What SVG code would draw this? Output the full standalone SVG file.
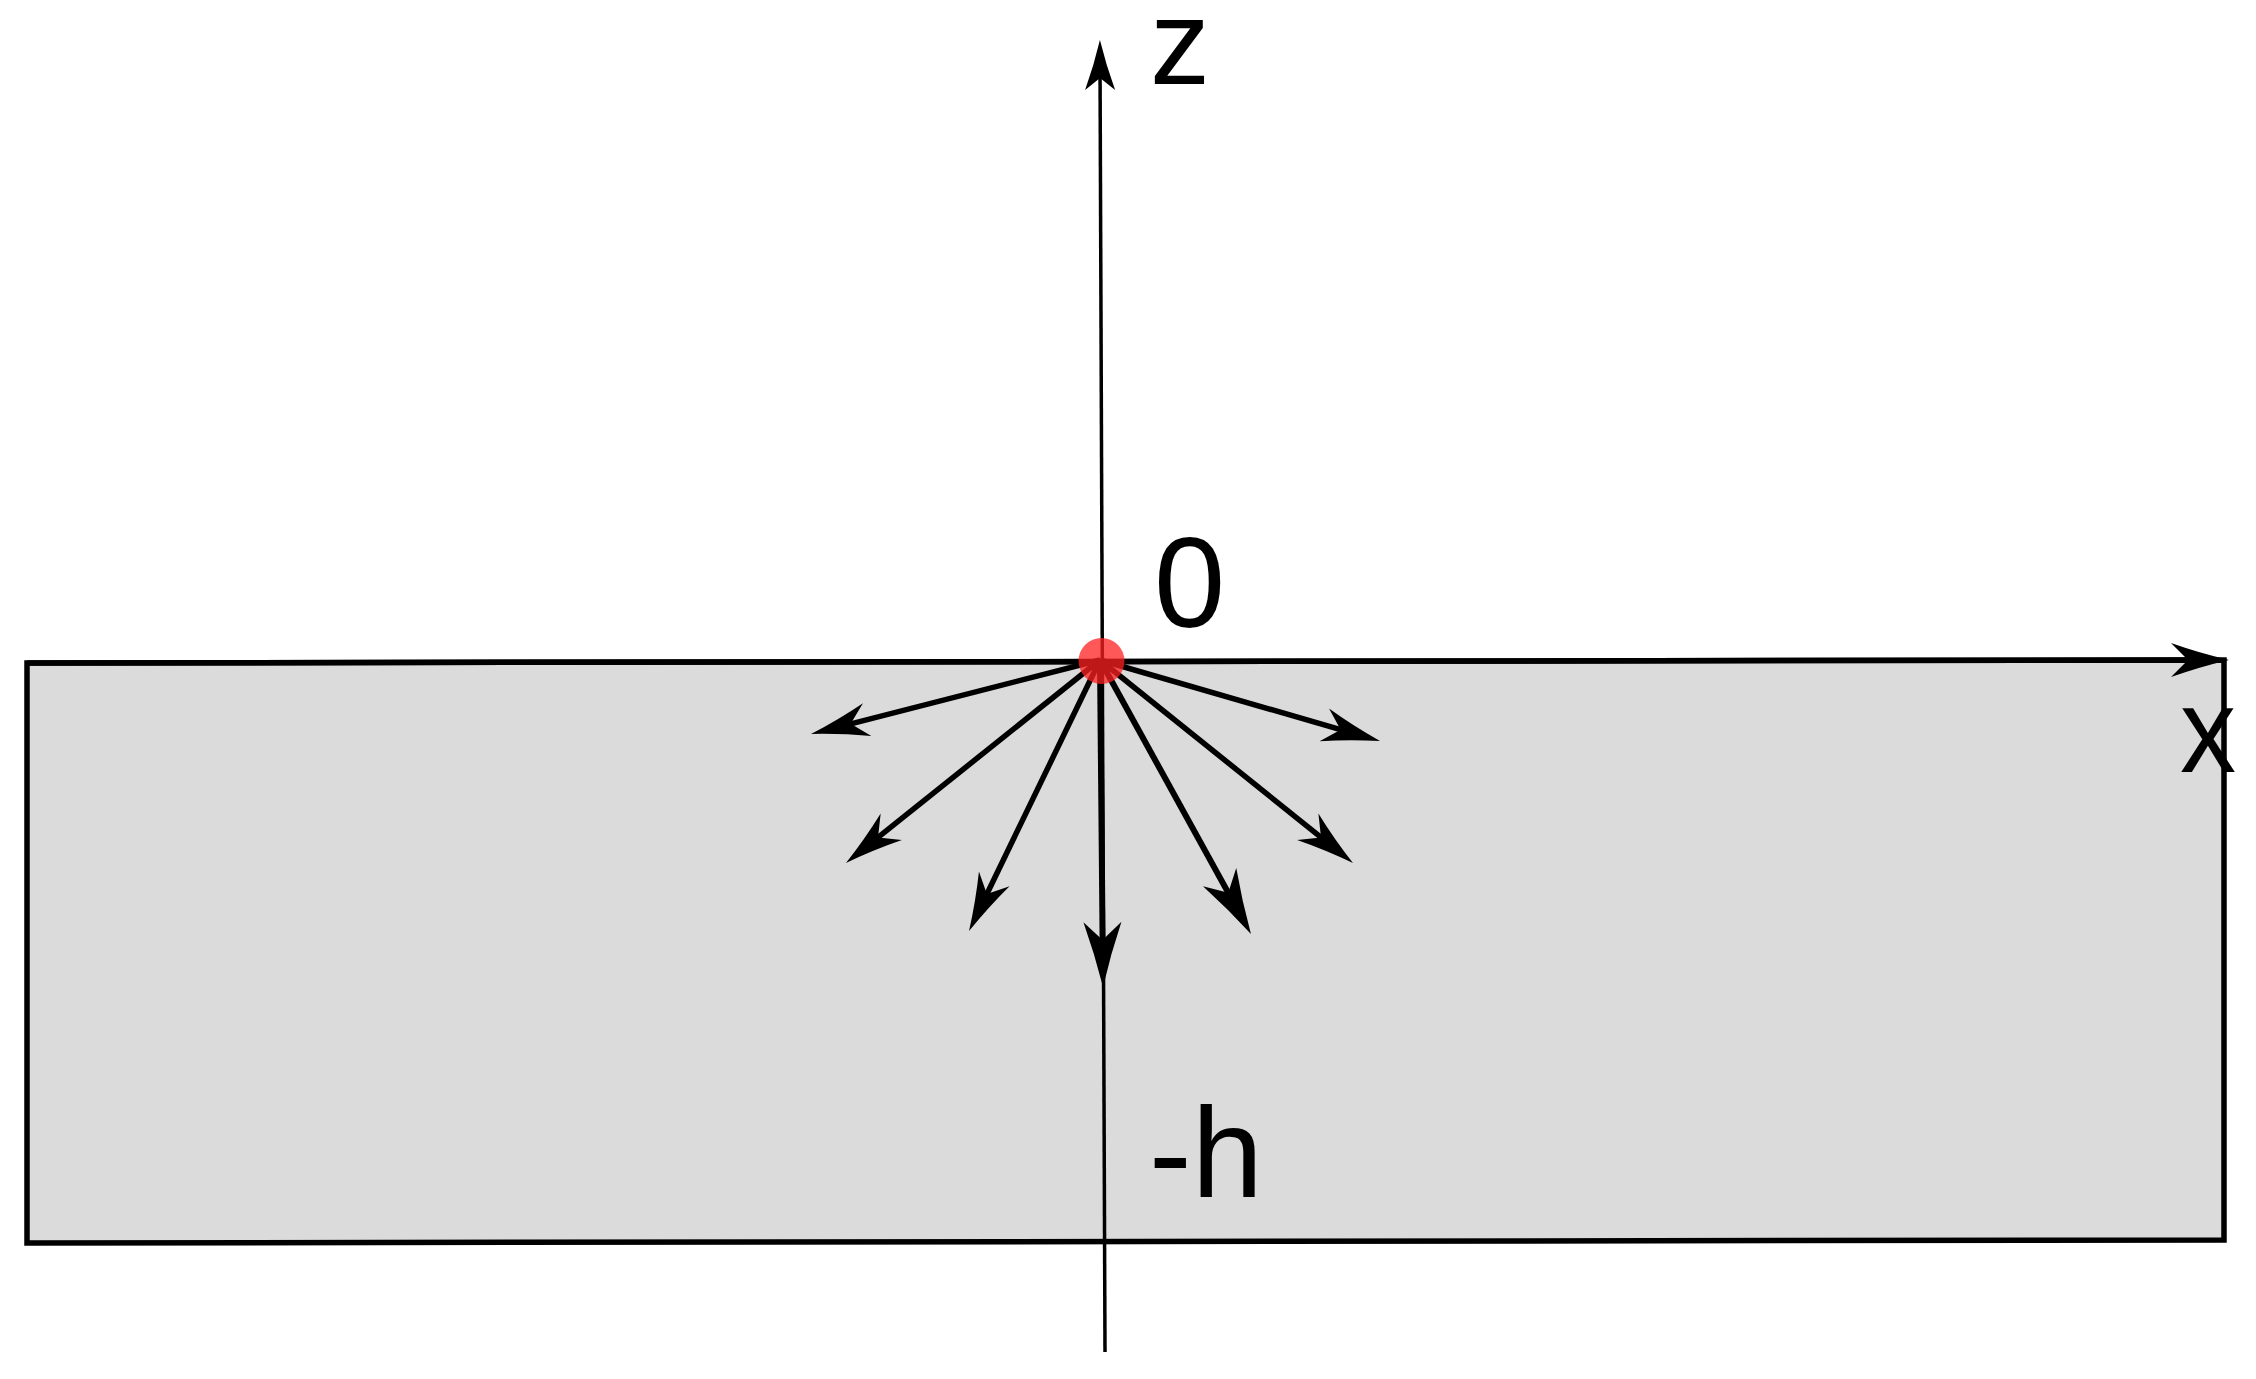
<svg xmlns="http://www.w3.org/2000/svg" width="2256" height="1379" viewBox="0 0 2256 1379">
<style>
.ray{stroke:#000;stroke-width:5.5;fill:none;marker-end:url(#arr)}
.rayL{stroke:#000;stroke-width:6;fill:none;marker-end:url(#arrL)}
.lbl{font-family:"Liberation Sans",Arial,sans-serif;font-size:128px;fill:#000}
.lblS{font-family:"Liberation Sans",Arial,sans-serif;font-size:120px;fill:#000}
</style>
<defs>
<marker id="arr" markerUnits="userSpaceOnUse" orient="auto" refX="0" refY="0" markerWidth="1" markerHeight="1" overflow="visible">
<path d="M25,0 Q-5,-7 -33,-17 L-16,0 L-33,17 Q-5,7 25,0 Z" fill="#000"/>
</marker>
<marker id="arrL" markerUnits="userSpaceOnUse" orient="auto" refX="0" refY="0" markerWidth="1" markerHeight="1" overflow="visible">
<path d="M25,0 Q-8,-8 -40,-19 L-22,0 L-40,19 Q-8,8 25,0 Z" fill="#000"/>
</marker>
<marker id="arrA" markerUnits="userSpaceOnUse" orient="auto" refX="0" refY="0" markerWidth="1" markerHeight="1" overflow="visible">
<path d="M20,0 Q-5,-6 -30,-15 L-18,0 L-30,15 Q-5,6 20,0 Z" fill="#000"/>
</marker>
</defs>
<rect width="2256" height="1379" fill="#fff"/>
<g id="medium">
<polygon points="27,663 2224,660 2224,1240 27,1243" fill="#dbdbdb" stroke="#000" stroke-width="5.5"/>
</g>
<g id="connectors">
<path id="x-axis" d="M27,663 L2204,660" stroke="#000" stroke-width="5.5" fill="none" marker-end="url(#arr)"/>
<path id="z-axis" d="M1105,1352 L1100,60" stroke="#000" stroke-width="3.5" fill="none" marker-end="url(#arrA)"/>
<path class="ray" d="M1100,660 L835.2,727.8"/>
<path class="ray" d="M1100,660 L865.5,847.4"/>
<path class="ray" d="M1100,660 L979.9,908.5"/>
<path class="rayL" d="M1100,660 L1102.8,962"/>
<path class="rayL" d="M1100,660 L1238.9,912.1"/>
<path class="ray" d="M1100,660 L1333.5,847.4"/>
<path class="ray" d="M1100,660 L1356,734.1"/>
</g>
<g id="source">
<circle cx="1101.5" cy="661" r="23" fill="#ff2020" fill-opacity="0.75"/>
</g>
<g id="labels">
<text class="lblS" x="1150" y="84">z</text>
<text class="lbl" x="1154" y="627">0</text>
<text class="lblS" x="2180" y="772" textLength="56" lengthAdjust="spacingAndGlyphs">x</text>
<text class="lbl" x="1149" y="1197">-h</text>
</g>
</svg>
